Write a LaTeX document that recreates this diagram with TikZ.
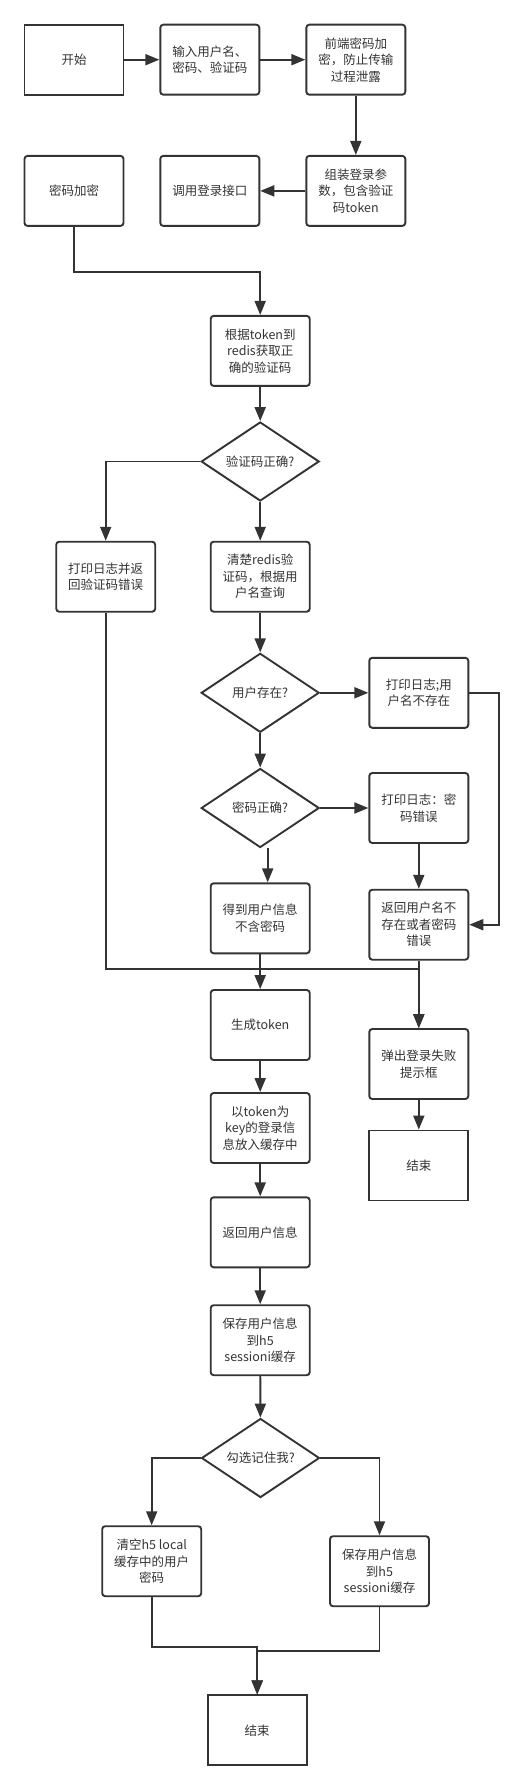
\documentclass[tikz,border=0pt]{standalone}
\usepackage{fontspec}
\setmainfont{Noto Sans CJK SC}
\usetikzlibrary{shapes.geometric,arrows.meta}
\definecolor{ink}{HTML}{333333}
\begin{document}
\begin{tikzpicture}[x=1pt,y=-1pt,line width=1.9pt,draw=ink,text=ink,
  every node/.style={font=\fontsize{12.5}{16.5}\selectfont,align=center},
  box/.style={draw=ink,rounded corners=3pt,minimum width=99pt,minimum height=70pt,inner sep=2pt},
  term/.style={draw=ink,minimum width=99pt,minimum height=70pt,inner sep=2pt},
  cond/.style={draw=ink,diamond,aspect=1.5,minimum width=118pt,minimum height=79pt,inner sep=0pt},
  arr/.style={-{Triangle[length=14pt,width=11pt]}}]
  \useasboundingbox (0,0) rectangle (530,1790);
  \node[term] (start) at (74,59.7) {开始};
  \node[box] (input) at (209.8,59.7) {输入用户名、\\密码、验证码};
  \node[box] (front) at (355.8,59.7) {前端密码加\\密，防止传输\\过程泄露};
  \node[box] (pack) at (355.8,190.9) {组装登录参\\数，包含验证\\码token};
  \node[box] (call) at (209.8,190.9) {调用登录接口};
  \node[box] (enc) at (74,190.9) {密码加密};
  \node[box] (fetch) at (260.2,350.9) {根据token到\\redis获取正\\确的验证码};
  \node[cond] (vcode) at (260.2,461.5) {验证码正确?};
  \node[box] (logv) at (105.7,576.7) {打印日志并返\\回验证码错误};
  \node[box] (clear) at (260.2,576.7) {清楚redis验\\证码，根据用\\户名查询};
  \node[cond] (user) at (260.2,692.8) {用户存在?};
  \node[box] (nouser) at (418.8,692.8) {打印日志;用\\户名不存在};
  \node[cond] (pw) at (260.2,808) {密码正确?};
  \node[box] (pwerr) at (418.8,808) {打印日志：密\\码错误};
  \node[box] (info) at (260.2,918.3) {得到用户信息\\不含密码};
  \node[box] (ret) at (418.8,924.7) {返回用户名不\\存在或者密码\\错误};
  \node[box] (gen) at (260.2,1025) {生成token};
  \node[box] (store) at (260.2,1128) {以token为\\key的登录信\\息放入缓存中};
  \node[box] (back) at (260.2,1232.3) {返回用户信息};
  \node[box] (save) at (260.2,1340.2) {保存用户信息\\到h5\\sessioni缓存};
  \node[box] (fail) at (418.8,1064) {弹出登录失败\\提示框};
  \node[term] (end1) at (418.8,1165.5) {结束};
  \node[cond] (remember) at (260.5,1458) {勾选记住我?};
  \node[box] (clr) at (151.7,1561.2) {清空h5 local\\缓存中的用户\\密码};
  \node[box] (save2) at (379.5,1571.2) {保存用户信息\\到h5\\sessioni缓存};
  \node[term] (end2) at (257.2,1730.4) {结束};
  \draw[arr] (start) -- (input);
  \draw[arr] (input) -- (front);
  \draw[arr] (front) -- (pack);
  \draw[arr] (pack) -- (call);
  \draw[arr] (enc.south) -- ++(0,44.7) -| (fetch.north);
  \draw[arr] (fetch) -- (vcode);
  \draw[arr] (vcode.west) -| (logv.north);
  \draw[arr] (vcode) -- (clear);
  \draw[arr] (clear) -- (user);
  \draw[arr] (user) -- (nouser);
  \draw[arr] (user) -- (pw);
  \draw[arr] (pw) -- (pwerr);
  \draw[arr] ([xshift=7.5pt]pw.south) -- ([xshift=7.5pt]info.north);
  \draw[arr] (nouser.east) -- ++(29.4,0) |- (ret.east);
  \draw[arr] (pwerr) -- (ret);
  \draw[arr] (logv.south) -- ++(0,356) -| (fail.north);
  \draw[arr] (ret) -- (fail);
  \draw[arr] (info) -- (gen);
  \draw[arr] (gen) -- (store);
  \draw[arr] (store) -- (back);
  \draw[arr] (back) -- (save);
  \draw[arr] (save) -- (remember);
  \draw[arr] (fail) -- (end1);
  \draw[arr] (remember.west) -| (clr.north);
  \draw[arr] (remember.east) -| (save2.north);
  \draw[arr] (clr.south) -- ++(0,49.7) -| (end2.north);
  \draw[arr] (save2.south) -- ++(0,44) -| (end2.north);
\end{tikzpicture}
\end{document}
